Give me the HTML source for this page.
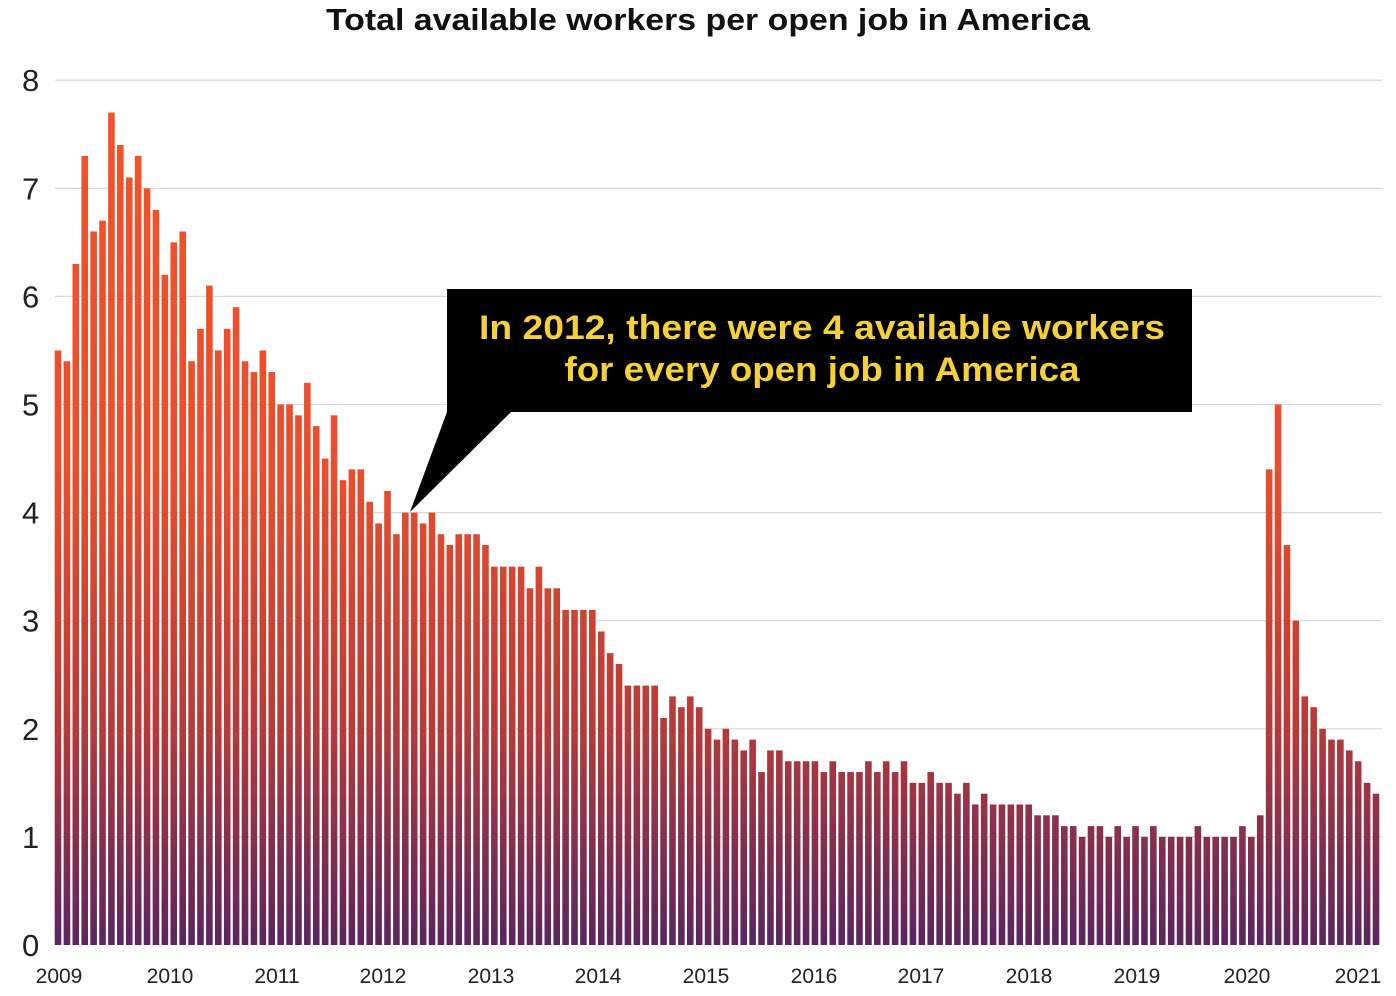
<!DOCTYPE html>
<html><head><meta charset="utf-8"><style>
html,body{margin:0;padding:0;background:#fff;width:1396px;height:996px;overflow:hidden}
svg{display:block}
text{font-family:"Liberation Sans",sans-serif}
</style></head><body>
<svg id="c" width="1396" height="996" viewBox="0 0 1396 996" xmlns="http://www.w3.org/2000/svg">
<defs>
<linearGradient id="g" gradientUnits="userSpaceOnUse" x1="0" y1="80" x2="0" y2="945">
<stop offset="0" stop-color="#f4522a"/>
<stop offset="0.45" stop-color="#ea4e2c"/>
<stop offset="0.75" stop-color="#b63a3a"/>
<stop offset="1" stop-color="#5a2560"/>
</linearGradient>
</defs>
<text x="708" y="30" text-anchor="middle" font-size="31" font-weight="bold" fill="#111" textLength="764" lengthAdjust="spacingAndGlyphs">Total available workers per open job in America</text>
<g id="grid" stroke="#d8d8d8" stroke-width="1.2"></g>
<g id="ylab" font-size="31" fill="#222"></g>
<g id="bars" fill="url(#g)"></g>
<g id="xlab" font-size="21" fill="#222" text-anchor="middle"></g>
<polygon points="447,289 1192,289 1192,412 511,412 410,512 447,412" fill="#000"/>
<text x="822" y="339" text-anchor="middle" font-size="34" font-weight="bold" fill="#f5d038" textLength="686" lengthAdjust="spacingAndGlyphs">In 2012, there were 4 available workers</text>
<text x="822" y="381" text-anchor="middle" font-size="34" font-weight="bold" fill="#f5d038" textLength="515" lengthAdjust="spacingAndGlyphs">for every open job in America</text>
</svg>
<script>
var v=[5.5,5.4,6.3,7.3,6.6,6.7,7.7,7.4,7.1,7.3,7.0,6.8,
6.2,6.5,6.6,5.4,5.7,6.1,5.5,5.7,5.9,5.4,5.3,5.5,
5.3,5.0,5.0,4.9,5.2,4.8,4.5,4.9,4.3,4.4,4.4,4.1,
3.9,4.2,3.8,4.0,4.0,3.9,4.0,3.8,3.7,3.8,3.8,3.8,
3.7,3.5,3.5,3.5,3.5,3.3,3.5,3.3,3.3,3.1,3.1,3.1,
3.1,2.9,2.7,2.6,2.4,2.4,2.4,2.4,2.1,2.3,2.2,2.3,
2.2,2.0,1.9,2.0,1.9,1.8,1.9,1.6,1.8,1.8,1.7,1.7,
1.7,1.7,1.6,1.7,1.6,1.6,1.6,1.7,1.6,1.7,1.6,1.7,
1.5,1.5,1.6,1.5,1.5,1.4,1.5,1.3,1.4,1.3,1.3,1.3,
1.3,1.3,1.2,1.2,1.2,1.1,1.1,1.0,1.1,1.1,1.0,1.1,
1.0,1.1,1.0,1.1,1.0,1.0,1.0,1.0,1.1,1.0,1.0,1.0,
1.0,1.1,1.0,1.2,4.4,5.0,3.7,3.0,2.3,2.2,2.0,1.9,
1.9,1.8,1.7,1.5,1.4];
var NS="http://www.w3.org/2000/svg";
function el(p,t,a,txt){var e=document.createElementNS(NS,t);for(var k in a)e.setAttribute(k,a[k]);if(txt!=null)e.textContent=txt;document.getElementById(p).appendChild(e);}
var y0=945,u=108.1;
for(var i=0;i<=8;i++){var y=y0-i*u;if(i>0)el("grid","line",{x1:55,x2:1382,y1:y,y2:y});el("ylab","text",{x:22,y:y+11},i);}
var step=(1376-58)/148;
for(var i=0;i<v.length;i++){var cx=58+i*step;var h=v[i]*u;el("bars","rect",{x:(cx-3.3).toFixed(2),y:(y0-h).toFixed(2),width:6.6,height:h.toFixed(2)});}
var xs=[59,170,277,383,491,598,706,814,921,1029,1137,1247,1358];
for(var i=0;i<xs.length;i++)el("xlab","text",{x:xs[i],y:983},2009+i);
</script>
</body></html>
